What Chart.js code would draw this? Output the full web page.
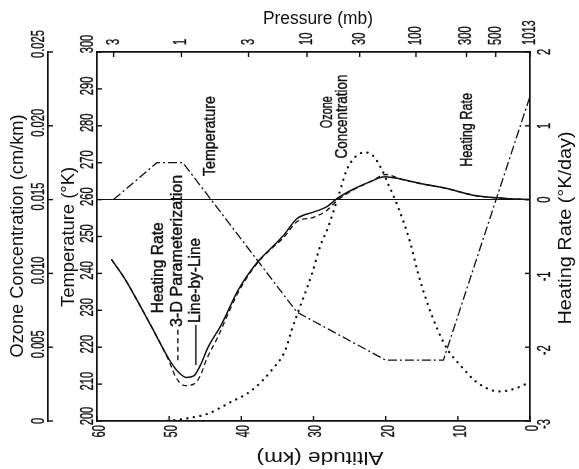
<!DOCTYPE html>
<html><head><meta charset="utf-8">
<script src="https://cdn.jsdelivr.net/npm/chart.js@4.4.0/dist/chart.umd.min.js"></script>
<style>html,body{margin:0;padding:0;background:#fff}#wrap{width:579px;height:469px}</style>
</head><body><div id="wrap"><canvas id="c" width="579" height="469"></canvas></div>
<script>
// ---- axis tick labels ----
const pressureLabels = ['3','1','3','10','30','100','300','500','1013'];
const pressureAltitudes = [57.7,48.3,39.0,30.9,23.6,15.8,8.8,4.75,0];
const ozoneTickLabels = ['0','0.005','0.010','0.015','0.020','0.025'];
const heatingTickLabels = ['-3','-2','-1','0','1','2'];

// ---- temperature profile (K) ----
const tempAltitude = [57.7,51.7,48.1,32.3,20,12,0];
const temperature  = [260,270,270,229.5,216.5,216.5,288];

// ---- ozone concentration (cm/km) ----
const ozoneAltitude = [50.2,47.3,44.6,41.8,38.5,35.7,33.9,33.0,30.2,29.1,28.0,26.7,25.4,24.2,22.9,21.8,20.5,19.7,18.7,17.6,16.6,15.5,14.3,12.9,11.5,9.7,7.3,4.2,1.0,0.3];
const ozone = [0.0000,0.0002,0.0005,0.0012,0.0021,0.0035,0.0048,0.0062,0.0100,0.0118,0.0131,0.0150,0.0170,0.0179,0.0182,0.0180,0.0170,0.0161,0.0150,0.0136,0.0121,0.0100,0.0081,0.0063,0.0049,0.0038,0.0026,0.0020,0.0024,0.0026];

// ---- heating rate, line-by-line (K/day) ----
const lblAltitude = [58.0,56.1,54.3,52.4,50.1,48.7,47.6,46.6,45.7,44.6,42.8,40.4,37.7,36.0,34.2,32.3,30.0,28.2,26.8,24.5,22.2,20.1,18.0,14.8,11.5,7.9,3.3,0];
const lblHeating  = [-0.81,-1.08,-1.39,-1.73,-2.15,-2.34,-2.41,-2.39,-2.25,-2.00,-1.70,-1.22,-0.84,-0.67,-0.49,-0.26,-0.17,-0.10,0.01,0.14,0.24,0.31,0.28,0.21,0.15,0.06,0.015,0];

// ---- heating rate, 3-D parameterization (K/day) ----
const paramAltitude = [58.0,56.1,54.3,52.4,50.1,49.0,47.8,46.6,45.7,44.8,43.4,40.4,37.7,36.0,34.2,32.3,30.0,28.2,26.8,24.5,22.2,19.9,18.0,14.8,11.5,7.9,3.3,0];
const paramHeating  = [-0.81,-1.08,-1.39,-1.73,-2.17,-2.42,-2.52,-2.50,-2.39,-2.16,-1.89,-1.25,-0.85,-0.68,-0.52,-0.30,-0.24,-0.15,-0.02,0.13,0.24,0.34,0.28,0.21,0.15,0.06,0.015,0];

const pts = (xs, ys) => xs.map((x, i) => ({x, y: ys[i]}));
const INK = '#111';
const FONT = '"Liberation Sans", Arial, sans-serif';

function drawText(ctx, s, x, y, rot, size, o) {
  o = o || {};
  ctx.save();
  ctx.translate(x, y);
  ctx.rotate(rot * Math.PI / 180);
  ctx.font = size + 'px ' + FONT;
  const w = ctx.measureText(s).width;
  const sx = o.len ? o.len / w : (o.sx || 1);
  ctx.scale(sx, 1);
  ctx.textAlign = o.align || 'center';
  ctx.textBaseline = 'middle';
  ctx.fillStyle = INK;
  ctx.fillText(s, 0, 0);
  if (o.heavy) { ctx.strokeStyle = INK; ctx.lineWidth = o.heavy; ctx.setLineDash([]); ctx.strokeText(s, 0, 0); }
  ctx.restore();
}

const notes = [
  {t:'Temperature', a:44.2, v:277.2, len:80},
  {t:'Ozone', a:28.0, v:283.7, len:32},
  {t:'Concentration', a:25.9, v:282.5, len:84},
  {t:'Heating Rate', a:8.6, v:278.9, len:74},
  {t:'Heating Rate', a:51.4, v:241.5, len:91},
  {t:'3-D Parameterization', a:48.85, v:246.1, len:152},
  {t:'Line-by-Line', a:46.4, v:238.1, len:85}
];
const keys = [
  {a:48.8, v1:224.7, v2:215.7, dash:[5,3.5]},
  {a:46.3, v1:226.0, v2:215.2, dash:[]}
];

const decor = {
  id: 'decor',
  afterDraw(chart) {
    const ctx = chart.ctx, s = chart.scales, ca = chart.chartArea;
    const TS = 18, SX = 0.62, TL = 5, HV = 0.35;
    ctx.save();
    ctx.strokeStyle = INK; ctx.lineWidth = 1.4;
    const ln = (x1,y1,x2,y2) => { ctx.beginPath(); ctx.moveTo(x1,y1); ctx.lineTo(x2,y2); ctx.stroke(); };
    // bottom altitude ticks
    s.x.ticks.forEach(t => {
      const px = s.x.getPixelForValue(t.value);
      ctx.lineWidth = 1.4; ln(px, ca.bottom, px, ca.bottom - TL);
      drawText(ctx, String(t.value), px + 3, ca.bottom + 4, -90, TS, {sx:SX, align:'right', heavy:HV});
    });
    // top pressure ticks
    s.x2.ticks.forEach((t, i) => {
      const px = s.x2.getPixelForValue(t.value);
      ctx.lineWidth = 1.4; ln(px, ca.top, px, ca.top + TL);
      drawText(ctx, pressureLabels[i], px, ca.top - 7, -90, TS, {sx:SX, align:'left', heavy:HV});
    });
    // temperature ticks
    const tn = s.yT.ticks.length;
    s.yT.ticks.forEach((t, i) => {
      const py = s.yT.getPixelForValue(t.value);
      ctx.lineWidth = 1.4; ln(ca.left, py, ca.left + TL, py);
      const sh = i === tn - 1 ? -8 : (i === 0 ? -5 : -3);
      drawText(ctx, String(t.value), ca.left - 9, py + sh, -90, TS, {sx:SX, heavy:HV});
    });
    // ozone ticks
    const ox = s.yO.right;
    const on = s.yO.ticks.length;
    s.yO.ticks.forEach((t, i) => {
      const py = s.yO.getPixelForValue(t.value);
      ctx.lineWidth = 1.4; ln(ox, py, ox + TL, py);
      const sh = i === on - 1 ? -8 : (i === 0 ? 0 : -3);
      drawText(ctx, ozoneTickLabels[i], ox - 9, py + sh, -90, TS, {sx:SX, heavy:HV});
    });
    // heating ticks
    s.yH.ticks.forEach((t, i) => {
      const py = s.yH.getPixelForValue(t.value);
      ctx.lineWidth = 1.4; ln(ca.right, py, ca.right - TL, py);
      const sh = t.value < 0 ? 3 : 0;
      drawText(ctx, heatingTickLabels[i], ca.right + 15, py + sh, -90, TS, {sx:SX, heavy:HV});
    });
    // axis titles
    drawText(ctx, 'Ozone Concentration (cm/km)', 18, 236, -90, 18, {len:243});
    drawText(ctx, 'Temperature (\u00B0K)', 69, 237, -90, 18, {len:140});
    drawText(ctx, 'Heating Rate (\u00B0K/day)', 566, 228, -90, 18, {len:193});
    drawText(ctx, 'Pressure (mb)', 318, 19, 0, 18, {len:110});
    drawText(ctx, 'Altitude (km)', 320, 457, 180, 18, {len:127});
    // annotations
    notes.forEach(n => {
      drawText(ctx, n.t, s.x.getPixelForValue(n.a), s.yT.getPixelForValue(n.v), -90, 16, {len:n.len, heavy:0.4});
    });
    ctx.lineWidth = 1.4;
    keys.forEach(k => {
      ctx.setLineDash(k.dash);
      const px = s.x.getPixelForValue(k.a);
      ln(px, s.yT.getPixelForValue(k.v1), px, s.yT.getPixelForValue(k.v2));
    });
    ctx.setLineDash([]);
    ctx.restore();
  }
};

const border = {display:true, color:INK, width:1.7};
new Chart(document.getElementById('c'), {
  type: 'line',
  data: {
    datasets: [
      {data: pts(tempAltitude, temperature), yAxisID:'yT', borderColor:INK, borderWidth:1.3, borderDash:[9,3,2,3], tension:0},
      {data: pts(ozoneAltitude, ozone), yAxisID:'yO', borderColor:INK, borderWidth:2.3, borderDash:[0.1,6.5], borderCapStyle:'round', cubicInterpolationMode:'monotone'},
      {data: pts(paramAltitude, paramHeating), yAxisID:'yH', borderColor:INK, borderWidth:1.3, borderDash:[5,3.5], cubicInterpolationMode:'monotone'},
      {data: pts(lblAltitude, lblHeating), yAxisID:'yH', borderColor:INK, borderWidth:1.5, cubicInterpolationMode:'monotone'}
    ]
  },
  options: {
    responsive:false, animation:false,
    layout:{padding:0},
    elements:{point:{radius:0}},
    plugins:{legend:{display:false}, tooltip:{enabled:false}},
    scales: {
      x: {type:'linear', position:'bottom', min:0, max:60, reverse:true,
          ticks:{display:false, stepSize:10}, grid:{display:false}, border,
          afterFit(sc){ sc.height = 48; }},
      x2: {type:'linear', position:'top', min:0, max:60, reverse:true,
          afterBuildTicks(sc){ sc.ticks = pressureAltitudes.map(v => ({value:v})); },
          ticks:{display:false}, grid:{display:false}, border,
          afterFit(sc){ sc.height = 52; }},
      yT: {type:'linear', position:'left', weight:0, min:200, max:300,
          ticks:{display:false, stepSize:10}, grid:{display:false}, border,
          afterFit(sc){ sc.width = 49; }},
      yO: {type:'linear', position:'left', weight:1, min:0, max:0.025,
          ticks:{display:false, stepSize:0.005}, grid:{display:false}, border,
          afterFit(sc){ sc.width = 48; }},
      yH: {type:'linear', position:'right', min:-3, max:2,
          ticks:{display:false, stepSize:1},
          grid:{display:true, drawTicks:false, lineWidth:1,
                color: c => (c.tick && c.tick.value === 0) ? INK : 'rgba(0,0,0,0)'},
          border, afterFit(sc){ sc.width = 49; }}
    }
  },
  plugins: [decor]
});
</script>
</body></html>
